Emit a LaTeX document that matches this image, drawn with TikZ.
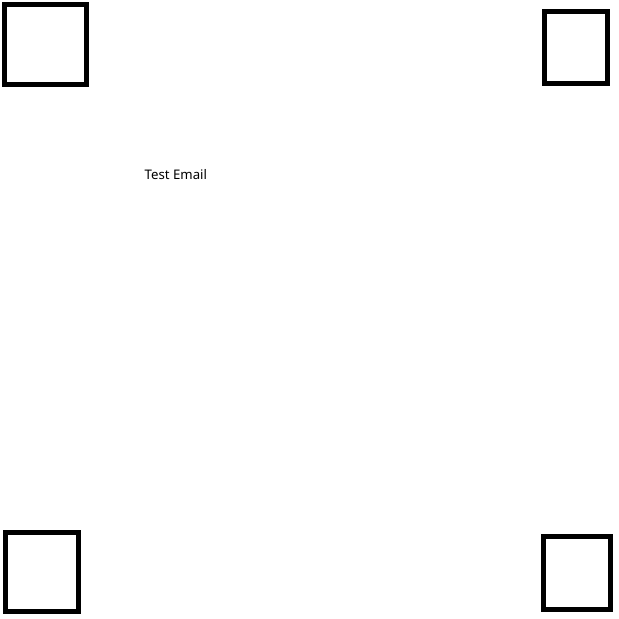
\documentclass[tikz,border=0pt]{standalone}
\usepackage{fontspec}
\setmainfont{Noto Sans}
\begin{document}
\begin{tikzpicture}[x=1pt,y=-1pt,
  sq/.style={draw=black,line width=5pt,fill=white,inner sep=0pt,outer sep=0pt}]
\useasboundingbox (0,0) rectangle (619,619);
\node[sq,minimum width=82pt,minimum height=80pt] (tl) at (45.5,44.5) {};
\node[sq,minimum width=63pt,minimum height=72pt] (tr) at (576,47.5) {};
\node[sq,minimum width=73pt,minimum height=79pt] (bl) at (42,572) {};
\node[sq,minimum width=67pt,minimum height=73pt] (br) at (577,573) {};
\node[anchor=base west,inner sep=0pt,font=\fontsize{13.2}{15}\selectfont] (lbl) at (144.5,179.5) {Test Email};
\end{tikzpicture}
\end{document}
